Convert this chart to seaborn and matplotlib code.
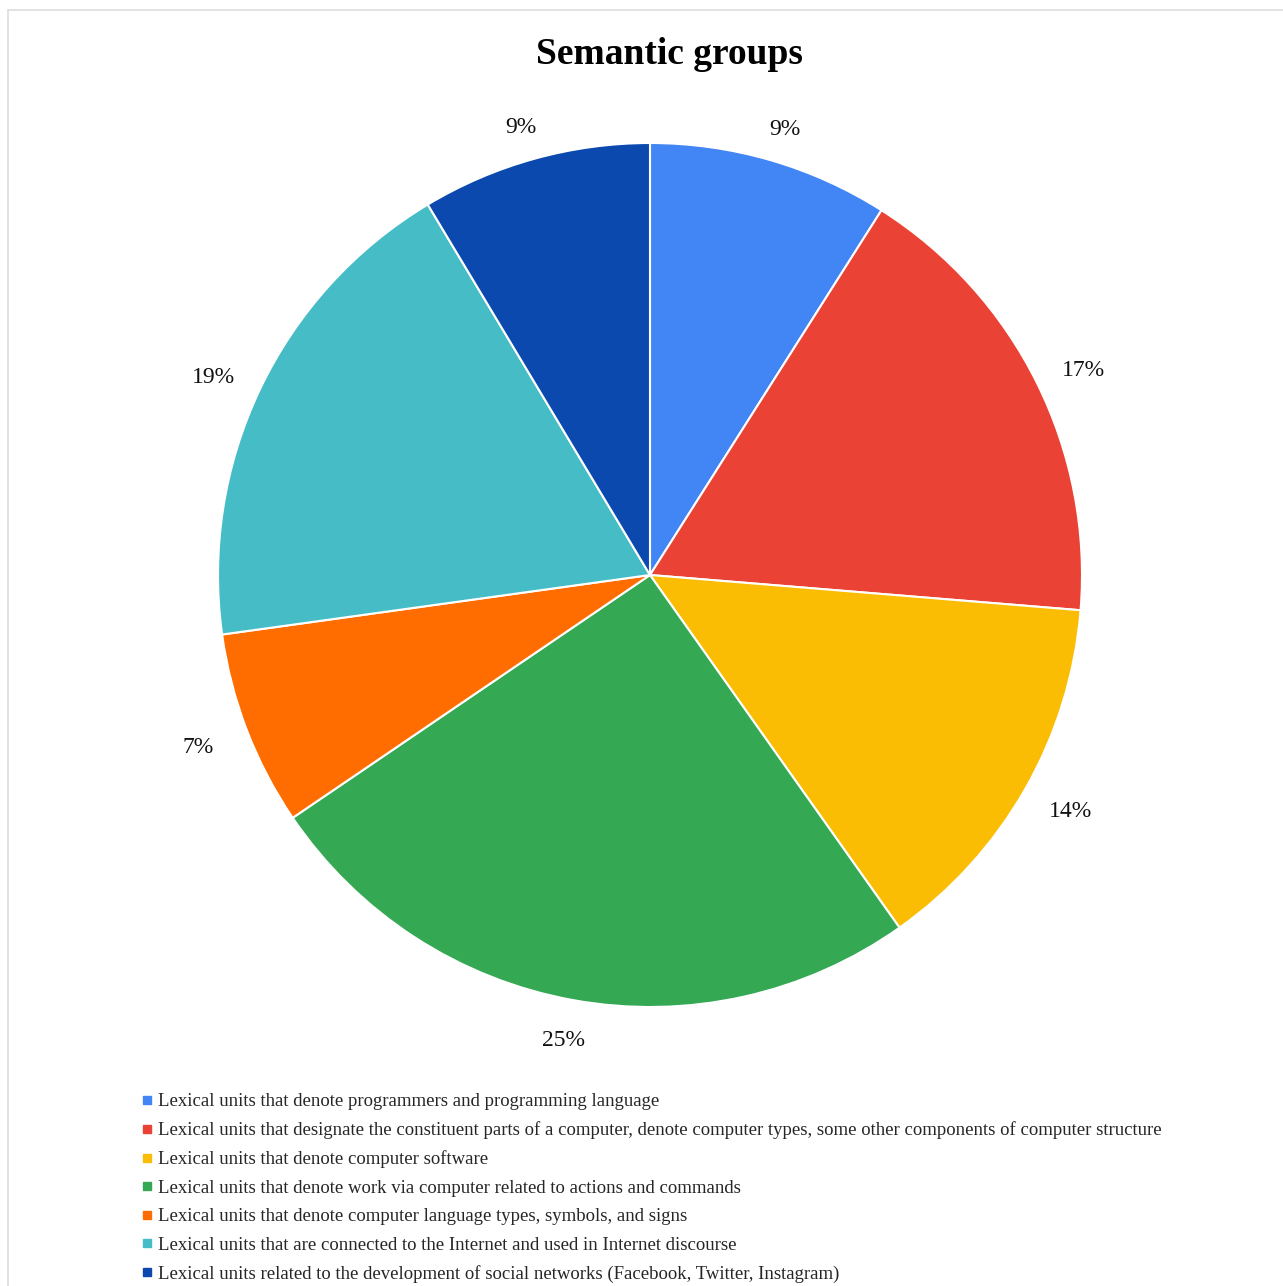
import matplotlib
matplotlib.use('Agg')
import numpy as np
import matplotlib.pyplot as plt
from matplotlib.lines import Line2D
import seaborn as sns

# ── Data ──
groups = [
    'Lexical units that denote programmers and programming language',
    'Lexical units that designate the constituent parts of a computer, denote computer types, some other components of computer structure',
    'Lexical units that denote computer software',
    'Lexical units that denote work via computer related to actions and commands',
    'Lexical units that denote computer language types, symbols, and signs',
    'Lexical units that are connected to the Internet and used in Internet discourse',
    'Lexical units related to the development of social networks (Facebook, Twitter, Instagram)',
]
shares = [9.0, 17.3, 13.9, 25.3, 7.3, 18.6, 8.6]
colors = ['#4285F4', '#EA4335', '#FBBC04', '#34A853', '#FF6D01', '#46BDC6', '#0B49AF']

sns.set_theme(style='white')
plt.rcParams['font.family'] = ['Liberation Serif', 'DejaVu Serif']

W, H = 1283, 1286
fig = plt.figure(figsize=(W / 100, H / 100), dpi=100)
fig.patch.set_facecolor('white')

# light frame (top and left edges visible)
fig.add_artist(Line2D([8 / W, 1.0], [1 - 10 / H, 1 - 10 / H], color='#dddddd', lw=1.2))
fig.add_artist(Line2D([8 / W, 8 / W], [0.0, 1 - 10 / H], color='#dddddd', lw=1.2))

cx, cy, r = 650, 575, 432
ax = fig.add_axes([(cx - r) / W, (H - cy - r) / H, 2 * r / W, 2 * r / H])
wedges, _, autotexts = ax.pie(
    shares, colors=colors, startangle=90, counterclock=False,
    autopct='%.0f%%', pctdistance=1.1, radius=1,
    wedgeprops=dict(edgecolor='white', linewidth=1.5),
    textprops=dict(fontsize=17, color='#111111'),
)
# labels sit a bit further out at the sides than at top/bottom
for w, t in zip(wedges, autotexts):
    a = np.deg2rad((w.theta1 + w.theta2) / 2)
    t.set_position((1.12 * np.cos(a), 1.085 * np.sin(a) - 0.01))

ax.set_xlim(-1, 1)
ax.set_ylim(-1, 1)
ax.set_aspect('equal')
ax.axis('off')

fig.text(669 / W, 1 - 55 / H, 'Semantic groups', ha='center', va='center',
         fontsize=27, fontweight='bold', color='#000000')

handles = [Line2D([], [], marker='s', ls='', color=c, markersize=6) for c in colors]
fig.legend(handles, groups, loc='upper left', bbox_to_anchor=(141 / W, 1 - 1093 / H),
           frameon=False, fontsize=13.5, handlelength=0.6, handletextpad=0.3,
           labelspacing=0.6, borderaxespad=0, borderpad=0)

fig.savefig('out.png', dpi=100, facecolor='white')
